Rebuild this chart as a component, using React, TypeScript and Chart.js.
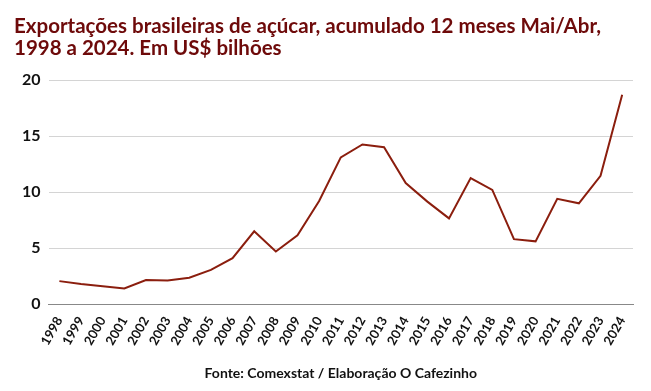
import React, { useEffect, useRef } from "react";
import { Chart, registerables } from "chart.js";

Chart.register(...registerables);

const years = [
  "1998", "1999", "2000", "2001", "2002", "2003", "2004", "2005", "2006",
  "2007", "2008", "2009", "2010", "2011", "2012", "2013", "2014", "2015",
  "2016", "2017", "2018", "2019", "2020", "2021", "2022", "2023", "2024",
];

const exportsUSD = [
  2.05, 1.8, 1.6, 1.4, 2.15, 2.1, 2.35, 3.05, 4.1,
  6.5, 4.7, 6.15, 9.2, 13.1, 14.25, 14.0, 10.8, 9.15,
  7.65, 11.25, 10.2, 5.8, 5.6, 9.4, 9.0, 11.45, 18.7,
];

const titleLines = [
  "Exportações brasileiras de açúcar, acumulado 12 meses Mai/Abr,",
  "1998 a 2024. Em US$ bilhões",
];
const sourceText = "Fonte: Comexstat / Elaboração O Cafezinho";

const footerPlugin = {
  id: "footerText",
  afterDraw(chart: any) {
    const { ctx, chartArea } = chart;
    ctx.save();
    ctx.font = "bold 14px Lato";
    ctx.fillStyle = "#111";
    ctx.textAlign = "center";
    ctx.textBaseline = "middle";
    ctx.fillText(sourceText, (chartArea.left + chartArea.right) / 2, chart.height - 18);
    ctx.restore();
  },
};

export default function App() {
  const ref = useRef<HTMLCanvasElement>(null);

  useEffect(() => {
    document.body.style.margin = "0";
    const ctx = ref.current!.getContext("2d")!;
    const chart = new Chart(ctx, {
      type: "line",
      data: {
        labels: years,
        datasets: [
          {
            data: exportsUSD,
            borderColor: "#8B1E0E",
            borderWidth: 2,
            pointRadius: 0,
            tension: 0,
            fill: false,
          },
        ],
      },
      plugins: [footerPlugin],
      options: {
        animation: false,
        responsive: false,
        layout: { padding: { left: 14, right: 18, top: 15, bottom: 41 } },
        plugins: {
          legend: { display: false },
          tooltip: { enabled: false },
          title: {
            display: true,
            text: titleLines,
            align: "start",
            color: "#6E0A0A",
            font: { family: "Lato", size: 20.5, weight: "bold", lineHeight: 1.1 },
            padding: { top: 0, bottom: 20 },
          },
        },
        scales: {
          x: {
            offset: true,
            grid: { display: false },
            border: { display: true, color: "#888", width: 1 },
            ticks: {
              color: "#111",
              font: { family: "Lato", size: 13, weight: "bold" },
              maxRotation: 60,
              minRotation: 60,
              autoSkip: false,
              padding: 2,
            },
          },
          y: {
            min: 0,
            max: 20,
            ticks: {
              stepSize: 5,
              color: "#111",
              font: { family: "Lato", size: 16, weight: "bold" },
              padding: 8,
            },
            grid: {
              color: (c: any) => (c.tick && c.tick.value === 0 ? "#888" : "#d4d4d4"),
              drawTicks: false,
            },
            border: { display: false },
          },
        },
      },
    });
    return () => chart.destroy();
  }, []);

  return <canvas ref={ref} width={651} height={391} style={{ display: "block" }} />;
}
